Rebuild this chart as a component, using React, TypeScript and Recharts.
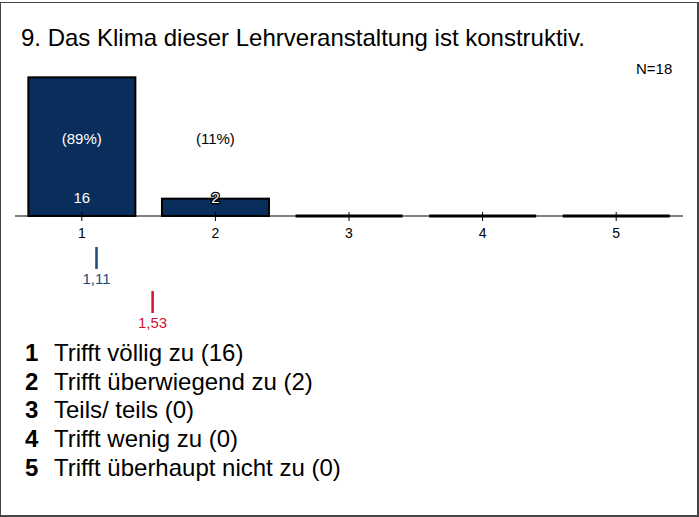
import React from 'react';
import { ComposedChart, Bar, Line, Scatter, XAxis, YAxis, LabelList } from 'recharts';

const categories = ['1', '2', '3', '4', '5'];
const counts = [16, 2, 0, 0, 0];
const percents = ['(89%)', '(11%)', '', '', ''];
const total = 18;

const answerLabels = [
  'Trifft völlig zu (16)',
  'Trifft überwiegend zu (2)',
  'Teils/ teils (0)',
  'Trifft wenig zu (0)',
  'Trifft überhaupt nicht zu (0)',
];

const meanValues = [1.11, 1.53];
const meanLabels = ['1,11', '1,53'];
const meanColors = ['#1d4a7a', '#d3122e'];

const FONT = '"Liberation Sans", Arial, Helvetica, sans-serif';
const NAVY = '#0a2e5c';

const barData = categories.map((c, i) => ({
  cat: c,
  count: counts[i],
  pct: percents[i],
  mid: total / 2,
}));

const meanData = meanValues.map((v, i) => ({
  x: v,
  row: i,
  label: meanLabels[i],
  color: meanColors[i],
}));

const BarShape = (p: any) => {
  const { x, y, width, height } = p;
  if (!height || height < 1) {
    return <line x1={x} x2={x + width} y1={y} y2={y} stroke="#000" strokeWidth={3} />;
  }
  return <rect x={x} y={y} width={width} height={height} fill={NAVY} stroke="#000" strokeWidth={2} />;
};

const CountLabel = (p: any) => {
  const { x, y, width, height, value } = p;
  if (!value) return null;
  const outside = height < 30;
  return (
    <text
      x={x + width / 2}
      y={y + height - 19}
      textAnchor="middle"
      dominantBaseline="central"
      fontSize={15}
      fontFamily={FONT}
      fill="#fff"
      stroke={outside ? '#000' : 'none'}
      strokeWidth={outside ? 2.5 : 0}
      paintOrder="stroke"
    >
      {value}
    </text>
  );
};

const PctLabel = (p: any) => {
  const { x, y, value, index } = p;
  if (!value) return null;
  const inside = counts[index] >= total / 2;
  return (
    <text x={x} y={y} textAnchor="middle" dominantBaseline="central" fontSize={15} fontFamily={FONT} fill={inside ? '#fff' : '#000'}>
      {value}
    </text>
  );
};

const CatTick = (p: any) => {
  const { x, y, payload } = p;
  return (
    <g>
      <line x1={x} x2={x} y1={y - 4} y2={y + 5} stroke="#000" strokeWidth={1} />
      <text x={x} y={y + 17} textAnchor="middle" dominantBaseline="central" fontSize={14} fontFamily={FONT} fill="#000">
        {payload.value}
      </text>
    </g>
  );
};

const MeanMark = (p: any) => {
  const { cx, cy, payload } = p;
  return (
    <g>
      <rect x={cx - 1.25} y={cy} width={2.5} height={22} fill={payload.color} />
      <text x={cx} y={cy + 31} textAnchor="middle" dominantBaseline="central" fontSize={15} fontFamily={FONT} fill={payload.color}>
        {payload.label}
      </text>
    </g>
  );
};

export default function App() {
  return (
    <div style={{ position: 'absolute', left: 0, top: 0, width: 699, height: 517, background: '#fff', fontFamily: FONT, overflow: 'hidden' }}>
      <div
        style={{
          position: 'absolute', left: 0, top: 2, width: 699, height: 515, boxSizing: 'border-box',
          borderLeft: '1px solid #444', borderTop: '1px solid #444', borderRight: '2px solid #444', borderBottom: '2px solid #444',
        }}
      />
      <div style={{ position: 'absolute', left: 21, top: 26, fontSize: 24, lineHeight: '24px', color: '#000', whiteSpace: 'nowrap' }}>
        9. Das Klima dieser Lehrveranstaltung ist konstruktiv.
      </div>
      <div style={{ position: 'absolute', left: 636, top: 61, fontSize: 15, lineHeight: '15px', color: '#000' }}>N={total}</div>

      <div style={{ position: 'absolute', left: 0, top: 0 }}>
        <ComposedChart width={699} height={247} data={barData} margin={{ top: 60, right: 16, left: 15, bottom: 0 }} barCategoryGap="10%">
          <XAxis
            dataKey="cat"
            height={31}
            tickLine={false}
            tickSize={0}
            tickMargin={0}
            axisLine={{ stroke: '#000', strokeWidth: 1 }}
            tick={<CatTick />}
            interval={0}
          />
          <YAxis hide domain={[0, total]} />
          <Bar dataKey="count" shape={BarShape} isAnimationActive={false}>
            <LabelList dataKey="count" content={CountLabel} />
          </Bar>
          <Line dataKey="mid" stroke="none" dot={false} activeDot={false} isAnimationActive={false}>
            <LabelList dataKey="pct" content={PctLabel} />
          </Line>
        </ComposedChart>
      </div>

      <div style={{ position: 'absolute', left: 0, top: 240 }}>
        <ComposedChart width={699} height={100} data={meanData} margin={{ top: 7, right: 16, left: 15, bottom: 49 }}>
          <XAxis type="number" dataKey="x" domain={[0.5, 5.5]} hide />
          <YAxis type="number" dataKey="row" domain={[0, 1]} reversed hide />
          <Scatter data={meanData} shape={MeanMark} isAnimationActive={false} />
        </ComposedChart>
      </div>

      <div style={{ position: 'absolute', left: 25, top: 339, fontSize: 24, lineHeight: '28.7px', color: '#000' }}>
        {answerLabels.map((t, i) => (
          <div key={i} style={{ whiteSpace: 'nowrap' }}>
            <span style={{ display: 'inline-block', width: 29, fontWeight: 'bold' }}>{categories[i]}</span>
            <span>{t}</span>
          </div>
        ))}
      </div>
    </div>
  );
}
